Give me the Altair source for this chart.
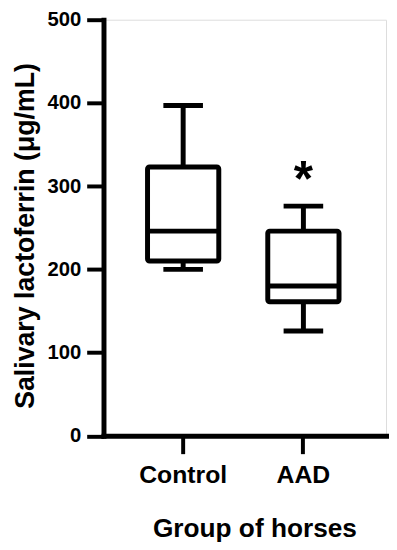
import altair as alt
import pandas as pd

groups = ["Control", "AAD"]
lower = [200, 126]
q1 = [210, 161]
median = [246, 180]
q3 = [323, 246]
upper = [397, 276]
y_ticks = [0, 100, 200, 300, 400, 500]
sig_group = ["AAD"]
sig_label = ["*"]
sig_y = [288]

df = pd.DataFrame({"group": groups, "lower": lower, "q1": q1, "median": median,
                   "q3": q3, "upper": upper})
sig = pd.DataFrame({"group": sig_group, "label": sig_label, "y": sig_y})

FONT = "Liberation Sans"

xscale = alt.Scale(type="band", domain=groups, paddingInner=0, paddingOuter=0.1749,
                   align=0.4647, round=False)
yscale = alt.Scale(domain=[0, 500], nice=False, zero=True)

xaxis = alt.Axis(title="Group of horses", labelAngle=0, labelFont=FONT, labelFontSize=25,
                 labelFontWeight="bold", labelColor="black", labelPadding=9,
                 tickSize=18, tickWidth=4, tickColor="black", domainColor="black",
                 domainWidth=5, domainCap="square",
                 titleFont=FONT, titleFontSize=26.5, titleFontWeight="bold", titleColor="black",
                 titleX=152.5, titleY=101.5, titleBaseline="alphabetic", titleAnchor="start",
                 titleAlign="center")
yaxis = alt.Axis(title="Salivary lactoferrin (μg/mL)", values=y_ticks, grid=False,
                 labelFont=FONT, labelFontSize=20.5, labelFontWeight="bold", labelColor="black",
                 labelPadding=6, tickSize=17, tickWidth=4, tickColor="black",
                 domainColor="black", domainWidth=5, domainCap="square",
                 titleFont=FONT, titleFontSize=27, titleFontWeight="bold", titleColor="black",
                 titleAngle=270, titleX=-71, titleY=218, titleBaseline="alphabetic",
                 titleAlign="center", titleAnchor="start")

base = alt.Chart(df)

whisker = base.mark_rule(color="black", strokeWidth=5).encode(
    x=alt.X("group:N", scale=xscale, axis=xaxis, sort=groups),
    y=alt.Y("lower:Q", scale=yscale, axis=yaxis),
    y2="upper:Q",
)
box = base.mark_bar(size=72, fill="white", stroke="black", strokeWidth=5,
                    strokeJoin="round", cornerRadius=2).encode(
    x=alt.X("group:N", scale=xscale, sort=groups),
    y=alt.Y("q1:Q", scale=yscale),
    y2="q3:Q",
)
med = base.mark_tick(size=72, thickness=5, color="black", opacity=1).encode(
    x=alt.X("group:N", scale=xscale, sort=groups),
    y=alt.Y("median:Q", scale=yscale),
)
cap_lo = base.mark_tick(size=40, thickness=5, color="black", opacity=1).encode(
    x=alt.X("group:N", scale=xscale, sort=groups),
    y=alt.Y("lower:Q", scale=yscale),
)
cap_hi = base.mark_tick(size=40, thickness=5, color="black", opacity=1).encode(
    x=alt.X("group:N", scale=xscale, sort=groups),
    y=alt.Y("upper:Q", scale=yscale),
)
star = alt.Chart(sig).mark_text(font=FONT, fontSize=50, fontWeight="bold", color="black",
                                baseline="alphabetic", align="center").encode(
    x=alt.X("group:N", scale=xscale, sort=groups),
    y=alt.Y("y:Q", scale=yscale),
    text="label:N",
)

chart = alt.layer(whisker, box, med, cap_lo, cap_hi, star).properties(
    width=285.5, height=420.5,
    autosize=alt.AutoSizeParams(type="none"),
    padding={"left": 96.5, "top": 9, "right": 3, "bottom": 110},
).configure_view(stroke=None).configure(background="white")

chart.save("out.html", embed_options={"renderer": "svg", "actions": False})
